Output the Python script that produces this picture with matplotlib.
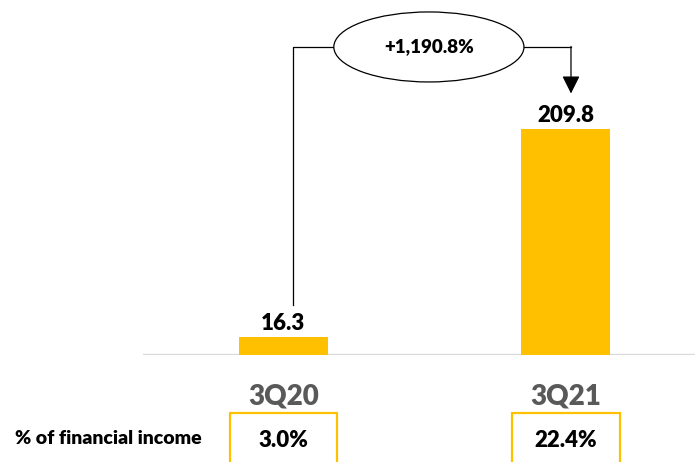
import matplotlib.pyplot as plt
from matplotlib.patches import Ellipse, Rectangle
from matplotlib.transforms import blended_transform_factory

# values (R$ million) and share of financial income
quarters = ['3Q20', '3Q21']
values = [16.3, 209.8]
share_labels = ['3.0%', '22.4%']
growth_label = '+1,190.8%'
row_title = '% of financial income'

GOLD = '#FFC000'
GREY = '#595959'

plt.rcParams['font.family'] = ['Lato', 'DejaVu Sans']
W = 'heavy'

fig = plt.figure(figsize=(6.95, 4.62), dpi=100)
ax = fig.add_axes([143 / 695, 107 / 462, 552 / 695, 355 / 462])

x = list(range(len(quarters)))
ax.bar(x, values, width=0.315, color=GOLD, zorder=2)
ax.set_xlim(-0.497, 1.457)
ax.set_ylim(0, 329.6)
ax.axhline(0, color='#d9d9d9', lw=1.6, zorder=1)
ax.axis('off')

for xi, v in zip(x, values):
    ax.text(xi, v + 3, f'{v:.1f}', ha='center', va='bottom',
            fontsize=16, fontweight=W, color='black')

# growth bracket: from the first bar up, across the ellipse, down to the second
top = 286
ell_x, ell_w, ell_h = 0.515, 0.673, 65
ax.plot([0.034, 0.034, ell_x - ell_w / 2], [values[0] + 30, top, top],
        color='black', lw=0.9, clip_on=False)
ax.plot([ell_x + ell_w / 2, 1.018], [top, top], color='black', lw=0.9)
ax.annotate('', xy=(1.018, values[1] + 33), xytext=(1.018, top + 0.5),
            arrowprops=dict(arrowstyle='-|>', color='black', lw=0.9,
                            mutation_scale=27, shrinkA=0, shrinkB=0))
ax.add_patch(Ellipse((ell_x, top), ell_w, ell_h, facecolor='white',
                     edgecolor='black', lw=0.9, zorder=3, clip_on=False))
ax.text(ell_x, top, growth_label, ha='center', va='center',
        fontsize=13.5, fontweight=W, zorder=4)

# category labels and share boxes under the axis
trans = blended_transform_factory(ax.transData, ax.transAxes)
for xi, q, s in zip(x, quarters, share_labels):
    ax.text(xi, -0.118, q, transform=trans, ha='center', va='center',
            fontsize=20, fontweight=W, color=GREY, clip_on=False)
    ax.add_patch(Rectangle((xi - 0.19, -0.33), 0.38, 0.167, transform=trans,
                           facecolor='none', edgecolor=GOLD, lw=1.6,
                           clip_on=False))
    ax.text(xi, -0.24, s, transform=trans, ha='center', va='center',
            fontsize=16, fontweight=W, color='black')

fig.text(15 / 695, 1 - 438 / 462, row_title, ha='left', va='center',
         fontsize=14, fontweight=W, color='black')

fig.savefig('out.png', dpi=100)
